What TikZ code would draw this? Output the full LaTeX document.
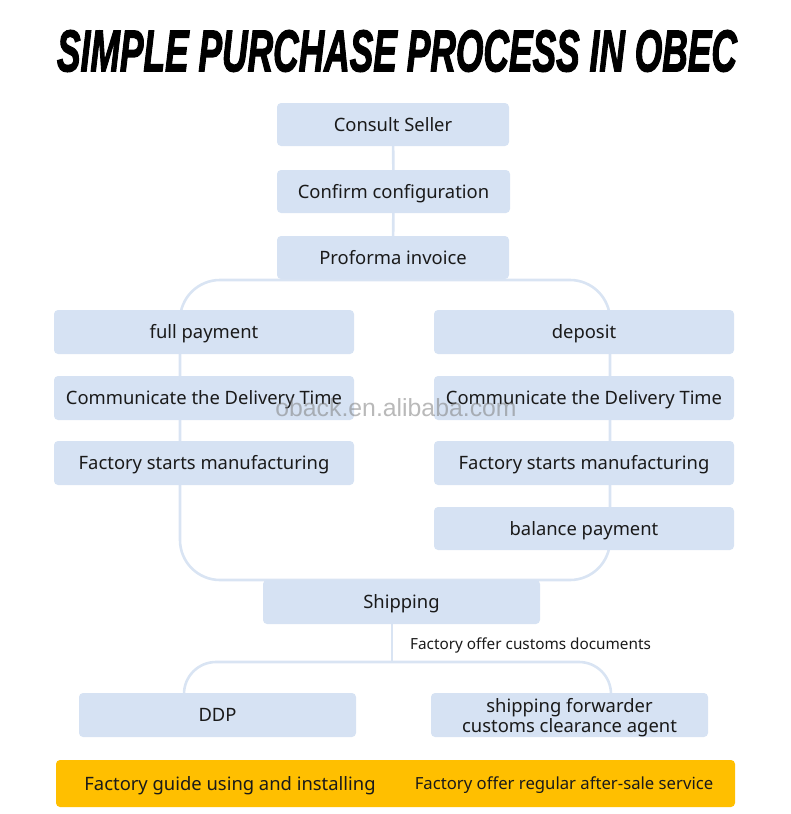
\documentclass[tikz,border=0pt]{standalone}
\usepackage{fontspec}
\setmainfont{Noto Sans}
\newfontfamily\titlefont[FakeBold=2.5]{Liberation Sans}
\newfontfamily\wmfont{Liberation Sans}
\usetikzlibrary{backgrounds}
\definecolor{boxblue}{HTML}{D6E2F3}
\definecolor{lineblue}{HTML}{D9E4F3}
\definecolor{barorange}{HTML}{FFBF00}
\definecolor{txt}{HTML}{1A1A1A}
\tikzset{
  lbl/.style={text=txt, font=\fontsize{18.4}{20}\selectfont, align=center,
    text height=16pt, text depth=3pt},
  box/.style={lbl, fill=boxblue, rounded corners=4pt, inner sep=0pt},
  conn/.style={draw=lineblue, line width=2.6pt},
}
\begin{document}
\begin{tikzpicture}[x=1pt,y=-1pt]
\useasboundingbox (0,0) rectangle (790,814);
% title
\node (title) at (397,51) {\resizebox{680pt}{41pt}{\titlefont\bfseries\itshape SIMPLE PURCHASE PROCESS IN OBEC}};
% boxes
\node[box, minimum width=232pt, minimum height=43pt] (consult) at (393,124.5) {Consult Seller};
\node[box, minimum width=233pt, minimum height=43pt] (confirm) at (393.5,191.5) {Confirm configuration};
\node[box, minimum width=232pt, minimum height=43pt] (proforma) at (393,257.5) {Proforma invoice};
\node[box, minimum width=300pt, minimum height=44pt] (fullpay) at (204,332) {full payment};
\node[box, minimum width=300pt, minimum height=44pt] (deposit) at (584,332) {deposit};
\node[box, minimum width=300pt, minimum height=44pt] (commL) at (204,398) {Communicate the Delivery Time};
\node[box, minimum width=300pt, minimum height=44pt] (commR) at (584,398) {Communicate the Delivery Time};
\node[box, minimum width=300pt, minimum height=44pt] (factL) at (204,463) {Factory starts manufacturing};
\node[box, minimum width=300pt, minimum height=44pt] (factR) at (584,463) {Factory starts manufacturing};
\node[box, minimum width=300pt, minimum height=43pt] (balance) at (584,528.5) {balance payment};
\node[box, minimum width=277pt, minimum height=44pt] (shipping) at (401.5,602) {Shipping};
\node[box, minimum width=277pt, minimum height=44pt] (ddp) at (217.5,715) {DDP};
\node[box, minimum width=277pt, minimum height=44pt] (forwarder) at (569.5,715) {};
\node[lbl, text height={}, text depth={}, inner sep=0pt] (forwardertext) at (569.5,718) {shipping forwarder\\customs clearance agent};
\node[anchor=west, text=txt, font=\fontsize{15.3}{17}\selectfont, inner sep=0pt, text height=13pt, text depth=2.5pt] (docs) at (410,644) {Factory offer customs documents};
% bottom bar
\node[fill=barorange, rounded corners=4pt, minimum width=679pt, minimum height=47pt, inner sep=0pt] (bar) at (395.5,783.5) {};
\node[lbl, inner sep=0pt] (guide) at (230,783.5) {Factory guide using and installing};
\node[lbl, inner sep=0pt, font=\fontsize{16.7}{19}\selectfont, text height=14.5pt, text depth=2.7pt] (service) at (564,784) {Factory offer regular after-sale service};
% watermark
\node[text=gray, opacity=0.55, font=\wmfont\fontsize{24.8}{26}\selectfont, inner sep=0pt] (wm) at (396,408) {oback.en.alibaba.com};
% connectors
\coordinate (loopTL) at (180,280);
\coordinate (loopBR) at (610,580);
\coordinate (forkTop) at (392,662);
\coordinate (forkL) at (184,693);
\coordinate (forkR) at (611,693);
\begin{scope}[on background layer]
\draw[conn] (consult) -- (confirm);
\draw[conn] (confirm) -- (proforma);
\draw[conn, rounded corners=40pt] (loopTL) rectangle (loopBR);
\draw[conn] (shipping.south -| forkTop) -- (forkTop);
\draw[conn, rounded corners=32pt] (forkL) |- (forkTop) -| (forkR);
\end{scope}
\end{tikzpicture}
\end{document}
